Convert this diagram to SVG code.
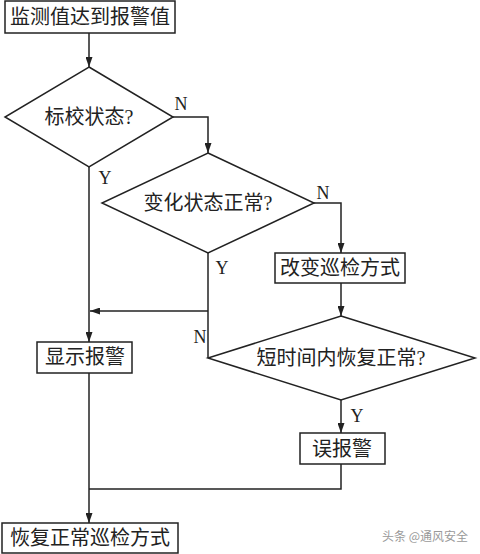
<svg xmlns="http://www.w3.org/2000/svg" width="480" height="554" viewBox="0 0 480 554">
<defs>
<marker id="arr" markerUnits="userSpaceOnUse" markerWidth="10" markerHeight="7" refX="10" refY="3.5" orient="auto">
<path d="M0,0 L10,3.5 L0,7 z" fill="#222"/>
</marker>
<style>
.shape{fill:#fff;stroke:#222;stroke-width:1.5}
.t{font-family:"Liberation Serif","Noto Sans CJK SC",serif;font-size:20px;fill:#222;text-anchor:middle}
.lbl{font-family:"Liberation Serif",serif;font-size:18px;fill:#222;text-anchor:middle}
.c{fill:none;stroke:#222;stroke-width:1.5}
.ca{fill:none;stroke:#222;stroke-width:1.5;marker-end:url(#arr)}
</style>
</defs>
<rect width="480" height="554" fill="#fff"/>
<g id="connectors">
<path class="ca" d="M89,33 V67"/>
<path class="ca" d="M173,117 H208 V153"/>
<path class="ca" d="M89,167 V342"/>
<path class="ca" d="M314,203 H341 V253"/>
<path class="c" d="M208,253 V358"/>
<path class="ca" d="M208,311 H90"/>
<path class="ca" d="M341,283 V316"/>
<path class="ca" d="M341,400 V433"/>
<path class="c" d="M341,464 V489 H89"/>
<path class="ca" d="M89,373 V523"/>
<text class="lbl" x="181" y="110">N</text>
<text class="lbl" x="105" y="184">Y</text>
<text class="lbl" x="323" y="199">N</text>
<text class="lbl" x="222" y="274">Y</text>
<text class="lbl" x="200" y="343">N</text>
<text class="lbl" x="357" y="422">Y</text>
</g>
<g id="start">
<rect class="shape" x="5" y="1" width="170" height="32"/>
<text class="t" x="90" y="24">监测值达到报警值</text>
</g>
<g id="d1">
<polygon class="shape" points="89,67 173,117 89,167 5,117"/>
<text class="t" x="89" y="124">标校状态?</text>
</g>
<g id="d2">
<polygon class="shape" points="208,153 314,203 208,253 102,203"/>
<text class="t" x="208" y="210">变化状态正常?</text>
</g>
<g id="change">
<rect class="shape" x="275" y="253" width="130" height="30"/>
<text class="t" x="340" y="275">改变巡检方式</text>
</g>
<g id="d3">
<polygon class="shape" points="341,316 475,358 341,400 208,358"/>
<text class="t" x="341" y="365">短时间内恢复正常?</text>
</g>
<g id="show">
<rect class="shape" x="37" y="342" width="95" height="31"/>
<text class="t" x="85" y="364">显示报警</text>
</g>
<g id="false">
<rect class="shape" x="300" y="433" width="85" height="31"/>
<text class="t" x="342" y="456">误报警</text>
</g>
<g id="end">
<rect class="shape" x="2" y="523" width="176" height="30"/>
<text class="t" x="90" y="545">恢复正常巡检方式</text>
</g>
<text x="425" y="541" font-family="Noto Sans CJK SC, sans-serif" font-size="12" fill="#999" text-anchor="middle">头条 @通风安全</text>
</svg>
